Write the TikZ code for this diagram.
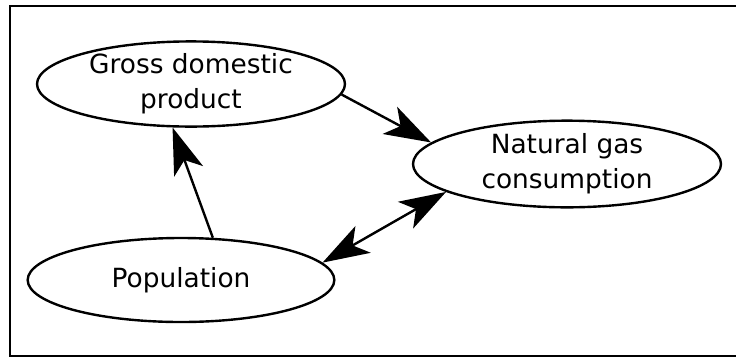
\documentclass[tikz,border=0pt]{standalone}
\usepackage{fontspec}
\setmainfont{DejaVu Sans}
\usetikzlibrary{shapes.geometric,arrows.meta}
\begin{document}
\begin{tikzpicture}[x=0.75pt, y=-0.75pt]
  \tikzstyle{var}=[draw, ellipse, line width=1.8pt, inner sep=0pt, align=center, font=\fontsize{19.8}{26}\selectfont]
  \tikzstyle{link}=[line width=1.8pt, >={Stealth[length=35pt, width=23pt, inset=9pt]}]

  % moldura
  \useasboundingbox (0,0) rectangle (736,358);
  \draw[line width=1.8pt] (10,6) rectangle (748,356);

  % variaveis
  \node[var, minimum width=231pt, minimum height=62pt] (gdp) at (191,84) {Gross domestic\\product};
  \node[var, minimum width=231pt, minimum height=65pt] (gas) at (567,164) {Natural gas\\consumption};
  \node[var, minimum width=230pt, minimum height=63pt] (pop) at (181,280) {Population};

  % relacoes
  \draw[link, ->] (gdp.-4) -- (gas.171);
  \draw[link, ->] (pop.53) -- (gdp.-113);
  \draw[link, <->] (pop.7) -- (gas.193);
\end{tikzpicture}
\end{document}
